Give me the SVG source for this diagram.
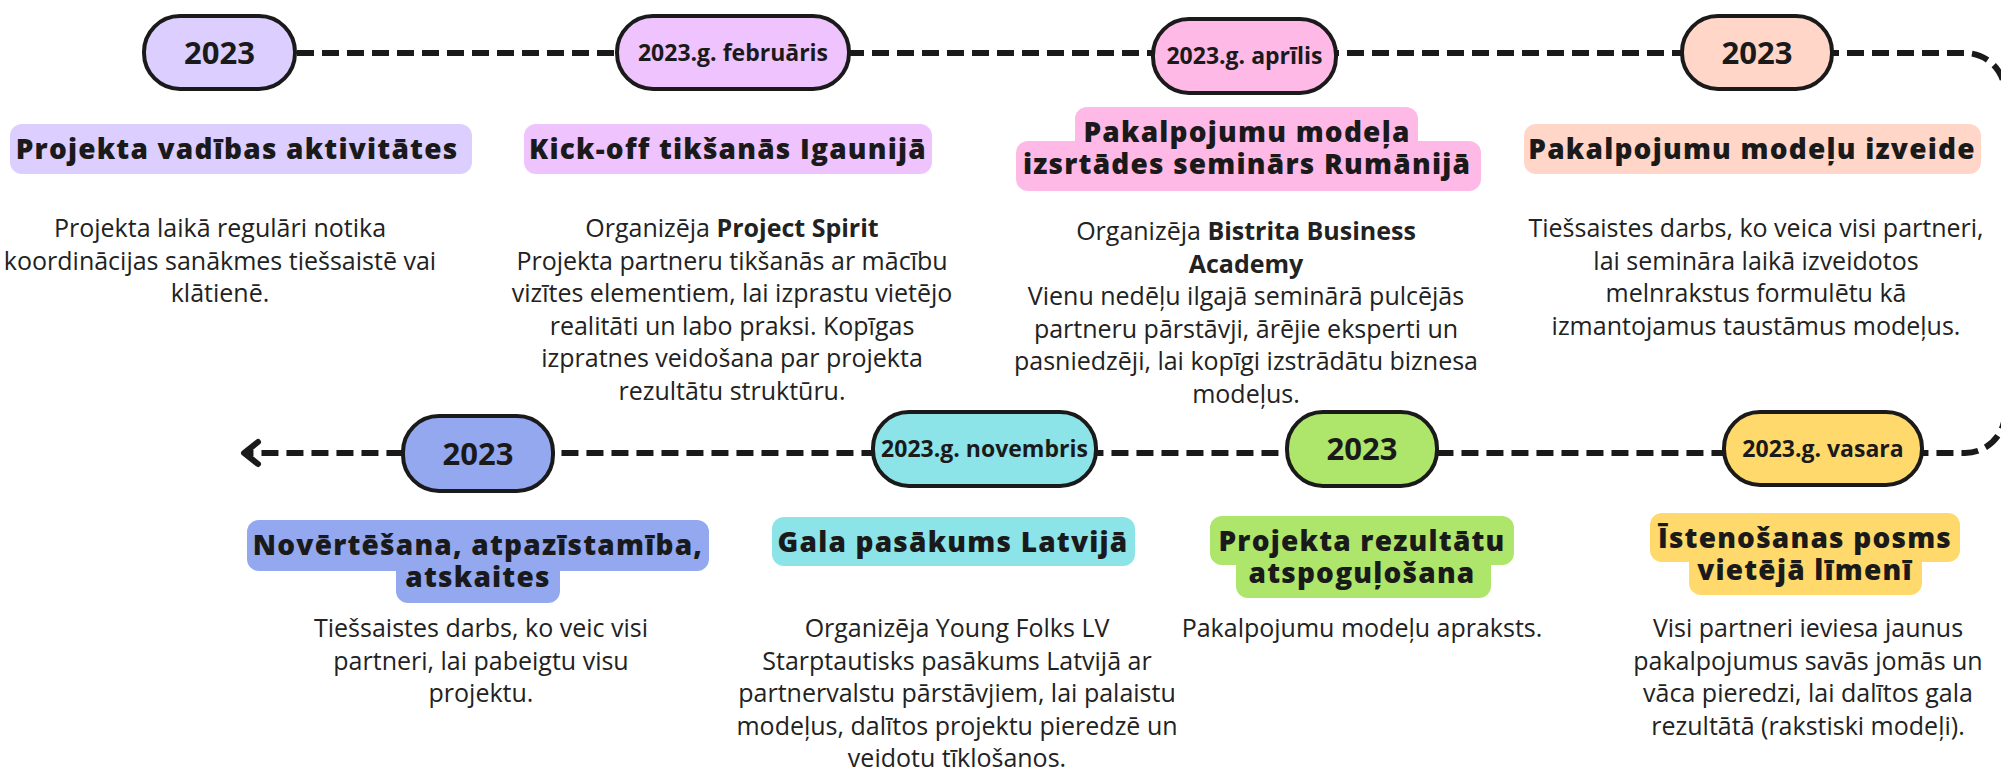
<svg xmlns="http://www.w3.org/2000/svg" width="2001" height="773" viewBox="0 0 2001 773">
<defs>
<style>
.pill{stroke:#1a1a1a;stroke-width:4}
.yr{font-family:"Open Sans","Liberation Sans",sans-serif;font-weight:700;font-size:31px;fill:#1a1a1a;text-anchor:middle}
.dt{font-family:"Open Sans","Liberation Sans",sans-serif;font-weight:700;font-size:23px;fill:#1a1a1a;text-anchor:middle}
.tt{font-family:"Open Sans","Liberation Sans",sans-serif;font-weight:800;font-size:28px;letter-spacing:1.2px;fill:#1a1a1a;text-anchor:middle}
.bd{font-family:"Open Sans","Liberation Sans",sans-serif;font-weight:400;font-size:25px;fill:#222;text-anchor:middle}
.bd .b{font-weight:700}
.line{fill:none;stroke:#1a1a1a;stroke-width:6;stroke-dasharray:17 8}
</style>
<marker id="chev" markerUnits="userSpaceOnUse" markerWidth="30" markerHeight="30" refX="20" refY="15" orient="auto">
<path d="M6 4 L20 15 L6 26" fill="none" stroke="#1a1a1a" stroke-width="6" stroke-linecap="round" stroke-linejoin="round"/>
</marker>
</defs>
<rect width="2001" height="773" fill="#fff"/>
<g id="connectors">
<path class="line" d="M297 53 H1965 A40 40 0 0 1 2005 93 V413 A40 40 0 0 1 1965 453 H244" marker-end="url(#chev)"/>
</g>
<g id="n1">
<rect class="pill" x="144" y="16" width="151" height="73" rx="36" fill="#DCCEFE"/>
<text class="yr" x="219.5" y="63.5">2023</text>
<rect x="10" y="124" width="462" height="50" rx="12" fill="#DCCEFE"/>
<text class="tt" x="237" y="159">Projekta vadības aktivitātes</text>
<text class="bd" x="220" y="237"><tspan x="220">Projekta laikā regulāri notika</tspan><tspan x="220" dy="32.6">koordinācijas sanākmes tiešsaistē vai</tspan><tspan x="220" dy="32.6">klātienē.</tspan></text>
</g>
<g id="n2">
<rect class="pill" x="617" y="16" width="232" height="73" rx="36" fill="#EEC3FE"/>
<text class="dt" x="733" y="60.5">2023.g. februāris</text>
<rect x="524" y="124" width="408" height="50" rx="12" fill="#EEC3FE"/>
<text class="tt" x="728" y="159">Kick-off tikšanās Igaunijā</text>
<text class="bd" x="732" y="237"><tspan x="732">Organizēja <tspan class="b">Project Spirit</tspan></tspan><tspan x="732" dy="32.6">Projekta partneru tikšanās ar mācību</tspan><tspan x="732" dy="32.6">vizītes elementiem, lai izprastu vietējo</tspan><tspan x="732" dy="32.6">realitāti un labo praksi. Kopīgas</tspan><tspan x="732" dy="32.6">izpratnes veidošana par projekta</tspan><tspan x="732" dy="32.6">rezultātu struktūru.</tspan></text>
</g>
<g id="n3">
<rect class="pill" x="1153" y="19" width="183" height="74" rx="36" fill="#FFB9E6"/>
<text class="dt" x="1244.5" y="64">2023.g. aprīlis</text>
<rect x="1075" y="107" width="343" height="54" rx="12" fill="#FFB9E6"/>
<rect x="1016" y="141" width="465" height="50" rx="12" fill="#FFB9E6"/>
<text class="tt" x="1247" y="142"><tspan x="1247">Pakalpojumu modeļa</tspan><tspan x="1247" dy="32">izsrtādes seminārs Rumānijā</tspan></text>
<text class="bd" x="1246" y="240"><tspan x="1246">Organizēja <tspan class="b">Bistrita Business</tspan></tspan><tspan x="1246" dy="32.6" class="b">Academy</tspan><tspan x="1246" dy="32.6">Vienu nedēļu ilgajā seminārā pulcējās</tspan><tspan x="1246" dy="32.6">partneru pārstāvji, ārējie eksperti un</tspan><tspan x="1246" dy="32.6">pasniedzēji, lai kopīgi izstrādātu biznesa</tspan><tspan x="1246" dy="32.6">modeļus.</tspan></text>
</g>
<g id="n4">
<rect class="pill" x="1682" y="16" width="150" height="73" rx="36" fill="#FFD6C8"/>
<text class="yr" x="1757" y="63.5">2023</text>
<rect x="1524" y="124" width="457" height="50" rx="12" fill="#FFD6C8"/>
<text class="tt" x="1752" y="159">Pakalpojumu modeļu izveide</text>
<text class="bd" x="1756" y="237"><tspan x="1756">Tiešsaistes darbs, ko veica visi partneri,</tspan><tspan x="1756" dy="32.6">lai semināra laikā izveidotos</tspan><tspan x="1756" dy="32.6">melnrakstus formulētu kā</tspan><tspan x="1756" dy="32.6">izmantojamus taustāmus modeļus.</tspan></text>
</g>
<g id="n5">
<rect class="pill" x="1724" y="412" width="198" height="73" rx="36" fill="#FFD96C"/>
<text class="dt" x="1823" y="456.5">2023.g. vasara</text>
<rect x="1650" y="513" width="310" height="49" rx="12" fill="#FFD96C"/>
<rect x="1689" y="540" width="233" height="55" rx="12" fill="#FFD96C"/>
<text class="tt" x="1805" y="548"><tspan x="1805">Īstenošanas posms</tspan><tspan x="1805" dy="32">vietējā līmenī</tspan></text>
<text class="bd" x="1808" y="637"><tspan x="1808">Visi partneri ieviesa jaunus</tspan><tspan x="1808" dy="32.6">pakalpojumus savās jomās un</tspan><tspan x="1808" dy="32.6">vāca pieredzi, lai dalītos gala</tspan><tspan x="1808" dy="32.6">rezultātā (rakstiski modeļi).</tspan></text>
</g>
<g id="n6">
<rect class="pill" x="1287" y="412" width="150" height="74" rx="36" fill="#AEE56B"/>
<text class="yr" x="1362" y="460">2023</text>
<rect x="1210" y="516" width="304" height="49" rx="12" fill="#AEE56B"/>
<rect x="1236" y="545" width="255" height="53" rx="12" fill="#AEE56B"/>
<text class="tt" x="1362" y="551"><tspan x="1362">Projekta rezultātu</tspan><tspan x="1362" dy="32">atspoguļošana</tspan></text>
<text class="bd" x="1362" y="637">Pakalpojumu modeļu apraksts.</text>
</g>
<g id="n7">
<rect class="pill" x="873" y="412" width="223" height="74" rx="36" fill="#8CE3E8"/>
<text class="dt" x="984.5" y="457">2023.g. novembris</text>
<rect x="772" y="517" width="363" height="49" rx="12" fill="#8CE3E8"/>
<text class="tt" x="953" y="552">Gala pasākums Latvijā</text>
<text class="bd" x="957" y="637"><tspan x="957">Organizēja Young Folks LV</tspan><tspan x="957" dy="32.6">Starptautisks pasākums Latvijā ar</tspan><tspan x="957" dy="32.6">partnervalstu pārstāvjiem, lai palaistu</tspan><tspan x="957" dy="32.6">modeļus, dalītos projektu pieredzē un</tspan><tspan x="957" dy="32.6">veidotu tīklošanos.</tspan></text>
</g>
<g id="n8">
<rect class="pill" x="403" y="416" width="150" height="75" rx="36" fill="#94A8F0"/>
<text class="yr" x="478" y="464.5">2023</text>
<rect x="247" y="520" width="462" height="51" rx="12" fill="#94A8F0"/>
<rect x="396" y="550" width="164" height="53" rx="12" fill="#94A8F0"/>
<text class="tt" x="478" y="555"><tspan x="478">Novērtēšana, atpazīstamība,</tspan><tspan x="478" dy="32">atskaites</tspan></text>
<text class="bd" x="481" y="637"><tspan x="481">Tiešsaistes darbs, ko veic visi</tspan><tspan x="481" dy="32.6">partneri, lai pabeigtu visu</tspan><tspan x="481" dy="32.6">projektu.</tspan></text>
</g>
</svg>
